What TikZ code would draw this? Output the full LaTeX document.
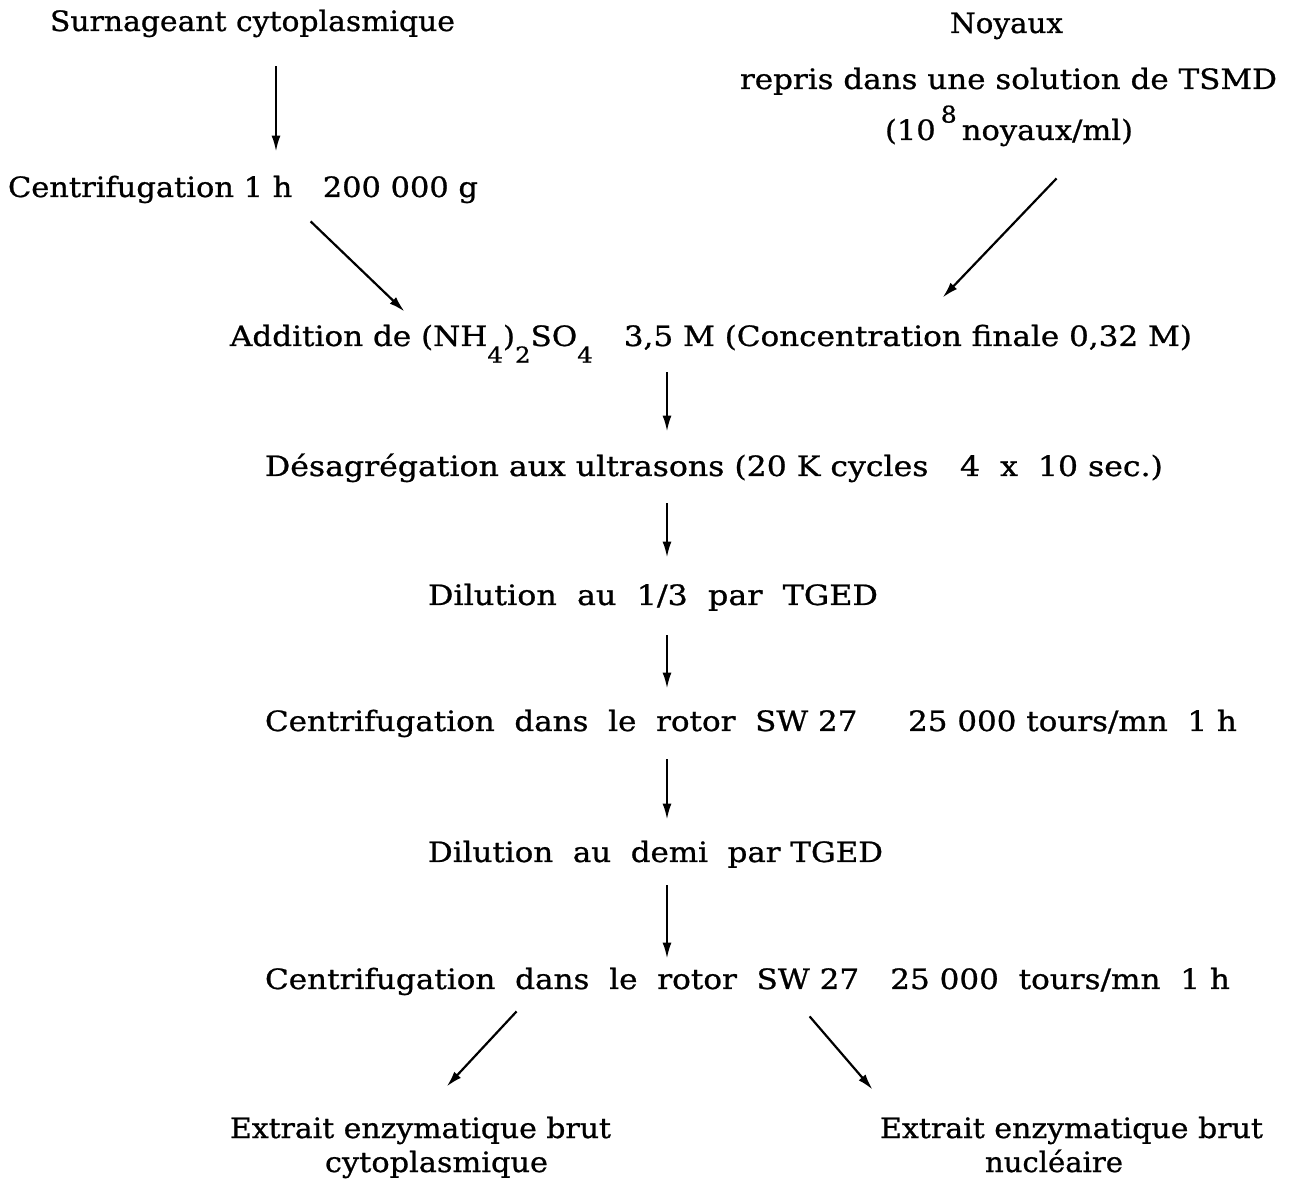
\documentclass[tikz,border=0pt]{standalone}
\usepackage{fontspec}
\setmainfont{DejaVu Serif}[FakeBold=0.8]
\usetikzlibrary{arrows.meta,calc}
\newsavebox\fitbox
\newdimen\fitdim
\newcommand\fitw[2]{\sbox\fitbox{#2}\fitdim=\wd\fitbox\pgfmathsetmacro\fitfx{#1*0.5/\fitdim}\scalebox{\fitfx}[1]{\usebox\fitbox}}
\newcommand\subs[1]{\raisebox{-1.15ex}{\fontsize{11}{12}\selectfont #1}}
\newcommand\sups[1]{\raisebox{1.2ex}{\fontsize{11.5}{12}\selectfont #1}}
\tikzset{
  txt/.style={inner sep=0pt, text height=10pt, text depth=3.5pt, anchor=base, font=\fontsize{14}{16}\selectfont},
  arr/.style={line width=1.1pt, -{Latex[length=8pt,width=4.5pt]}}
}
\begin{document}
\begin{tikzpicture}[x=0.5pt,y=-0.5pt]
\useasboundingbox (0,0) rectangle (1292,1181);
\node[txt] (surn) at (252.5,31) {\fitw{405}{Surnageant cytoplasmique}};
\node[txt] (cen1) at (243,197) {\fitw{470}{Centrifugation 1 h\quad 200 000 g}};
\node[txt] (noy) at (1006.5,33) {\fitw{113}{Noyaux}};
\node[txt] (rep) at (1008.5,89) {\fitw{537}{repris dans une solution de TSMD}};
\node[txt] (conc) at (1009,140) {\fitw{248}{(10\,\sups{8}\,noyaux/ml)}};
\node[txt] (add) at (711,346) {\fitw{962}{Addition de (NH\subs{4})\subs{2}SO\subs{4}\quad 3,5 M (Concentration finale 0,32 M)}};
\node[txt] (des) at (714,476) {\fitw{898}{Désagrégation aux ultrasons (20 K cycles\quad 4\ \ x\ \ 10 sec.)}};
\node[txt] (dil1) at (653,605) {\fitw{450}{Dilution\ \ au\ \ 1/3\ \ par\ \ TGED}};
\node[txt] (cen2) at (751,731) {\fitw{972}{Centrifugation\ \ dans\ \ le\ \ rotor\ \ SW 27\quad\ \ 25 000 tours/mn\ \ 1 h}};
\node[txt] (dil2) at (655.5,862) {\fitw{455}{Dilution\ \ au\ \ demi\ \ par TGED}};
\node[txt] (cen3) at (747.5,989) {\fitw{965}{Centrifugation\ \ dans\ \ le\ \ rotor\ \ SW 27\quad 25 000\ \ tours/mn\ \ 1 h}};
\node[txt] (ext1) at (420.5,1138) {\fitw{381}{Extrait enzymatique brut}};
\node[txt] (cyt) at (436.5,1172) {\fitw{223}{cytoplasmique}};
\node[txt] (ext2) at (1071.5,1138) {\fitw{383}{Extrait enzymatique brut}};
\node[txt] (nuc) at (1054,1172) {\fitw{138}{nucléaire}};
\coordinate (ax) at (276,0);
\coordinate (cx) at (667,0);
\draw[arr, shorten <=14pt, shorten >=12.5pt] (surn.south -| ax) -- (cen1.north -| ax);
\draw[arr] ($(cen1.south west)+(303,17)$) -- ($(add.north west)+(175,-14)$);
\draw[arr] ($(conc.south west)+(172,31)$) -- ($(add.north west)+(713,-28)$);
\draw[arr, shorten <=9.5pt, shorten >=12pt] (add.south -| cx) -- (des.north -| cx);
\draw[arr, shorten <=10pt, shorten >=13.5pt] (des.south -| cx) -- (dil1.north -| cx);
\draw[arr, shorten <=11.5pt, shorten >=11pt] (dil1.south -| cx) -- (cen2.north -| cx);
\draw[arr, shorten <=10.5pt, shorten >=11pt] (cen2.south -| cx) -- (dil2.north -| cx);
\draw[arr, shorten <=8pt, shorten >=5pt] (dil2.south -| cx) -- (cen3.north -| cx);
\draw[arr] ($(cen3.south west)+(252,15)$) -- ($(ext1.north west)+(217,-31)$);
\draw[arr] ($(cen3.south west)+(545,20)$) -- ($(ext2.north west)+(-7,-28)$);
\end{tikzpicture}
\end{document}
